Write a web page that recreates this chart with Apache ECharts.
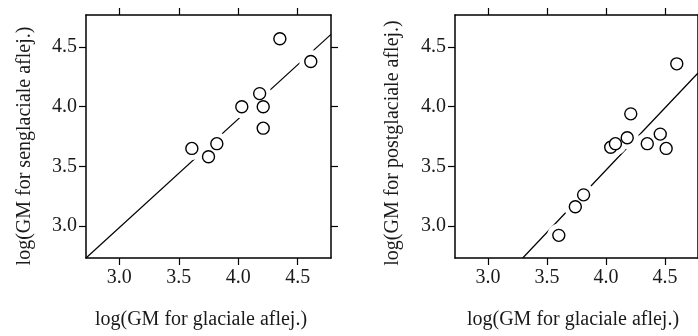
<!DOCTYPE html>
<html>
<head>
<meta charset="utf-8">
<script src="https://cdn.jsdelivr.net/npm/echarts@6/dist/echarts.min.js"></script>
<style>html,body{margin:0;padding:0;background:#fff}#c{width:698px;height:336px}</style>
</head>
<body>
<div id="c"></div>
<script>
// Data
const leftX  = [3.61, 3.75, 3.82, 4.03, 4.18, 4.21, 4.21, 4.35, 4.61];
const leftY  = [3.65, 3.58, 3.69, 4.00, 4.11, 4.00, 3.82, 4.57, 4.38];
const rightX = [3.60, 3.74, 3.81, 4.04, 4.08, 4.18, 4.21, 4.35, 4.46, 4.51, 4.60];
const rightY = [2.92, 3.16, 3.26, 3.66, 3.69, 3.74, 3.94, 3.69, 3.77, 3.65, 4.36];
const leftFitX  = [2.72, 4.78];
const leftFitY  = [2.73, 4.607];
const rightFitX = [3.294, 4.78];
const rightFitY = [2.73, 4.283];
const tickValues = [3.0, 3.5, 4.0, 4.5];
const tickLabels = ['3.0', '3.5', '4.0', '4.5'];
const xTitle = 'log(GM for glaciale aflej.)';
const yTitleLeft = 'log(GM for senglaciale aflej.)';
const yTitleRight = 'log(GM for postglaciale aflej.)';
const xRange = [2.72, 4.78];
const yRange = [2.73, 4.77];

const FONT = 'Liberation Serif';
const TXT = '#1a1a1a';
const zip = (a, b) => a.map((v, i) => [v, b[i]]);
const fmt = v => tickLabels[tickValues.findIndex(t => Math.abs(t - v) < 1e-9)] ?? '';

function xAx(gi, pos, showLabel) {
  return {
    type: 'value', gridIndex: gi, position: pos, min: xRange[0], max: xRange[1],
    axisLine: { show: true, onZero: false, lineStyle: { color: '#000', width: 1.5 } },
    axisTick: { show: true, inside: false, length: 7, customValues: tickValues, lineStyle: { color: '#000', width: 1.2 } },
    axisLabel: {
      show: showLabel, customValues: tickValues, margin: 10, color: TXT,
      fontFamily: FONT, fontSize: 20, formatter: fmt
    },
    splitLine: { show: false }
  };
}
function yAx(gi, pos, showLabel) {
  return {
    type: 'value', gridIndex: gi, position: pos, min: yRange[0], max: yRange[1],
    axisLine: { show: true, onZero: false, lineStyle: { color: '#000', width: 1.5 } },
    axisTick: { show: true, inside: false, length: 7, customValues: tickValues, lineStyle: { color: '#000', width: 1.2 } },
    axisLabel: {
      show: showLabel, customValues: tickValues, margin: 9, color: TXT,
      fontFamily: FONT, fontSize: 20, formatter: fmt
    },
    splitLine: { show: false }
  };
}

function panelSeries(xi, yi, px, py, fx, fy) {
  return [
    { type: 'line', xAxisIndex: xi, yAxisIndex: yi, data: zip(fx, fy), symbol: 'none',
      lineStyle: { color: '#000', width: 1.2 }, z: 2, silent: true, animation: false },
    { type: 'scatter', xAxisIndex: xi, yAxisIndex: yi, data: zip(px, py), symbol: 'circle',
      symbolSize: 23, itemStyle: { color: '#fff', borderWidth: 0, opacity: 1 }, z: 3, silent: true, animation: false },
    { type: 'scatter', xAxisIndex: xi, yAxisIndex: yi, data: zip(px, py), symbol: 'circle',
      symbolSize: 12, itemStyle: { color: '#fff', borderColor: '#000', borderWidth: 1.4, opacity: 1 }, z: 4, silent: true, animation: false }
  ];
}

const chart = echarts.init(document.getElementById('c'), null, { renderer: 'canvas' });
const titleStyle = { font: '20px "Liberation Serif"', fill: TXT, textAlign: 'center', textVerticalAlign: 'middle' };
chart.setOption({
  backgroundColor: '#fff',
  animation: false,
  grid: [
    { left: 86, top: 15, width: 245, height: 243 },
    { left: 455, top: 15, width: 245, height: 243 }
  ],
  xAxis: [xAx(0, 'bottom', true), xAx(0, 'top', false), xAx(1, 'bottom', true), xAx(1, 'top', false)],
  yAxis: [yAx(0, 'left', true), yAx(0, 'right', false), yAx(1, 'left', true), yAx(1, 'right', false)],
  series: [
    ...panelSeries(0, 0, leftX, leftY, leftFitX, leftFitY),
    ...panelSeries(2, 2, rightX, rightY, rightFitX, rightFitY)
  ],
  graphic: [
    { type: 'text', x: 201, y: 320, style: Object.assign({ text: xTitle }, titleStyle) },
    { type: 'text', x: 573, y: 320, style: Object.assign({ text: xTitle }, titleStyle) },
    { type: 'text', x: 25, y: 146, rotation: Math.PI / 2, style: Object.assign({ text: yTitleLeft }, titleStyle) },
    { type: 'text', x: 393, y: 143, rotation: Math.PI / 2, style: Object.assign({ text: yTitleRight }, titleStyle) }
  ]
});
</script>
</body>
</html>
